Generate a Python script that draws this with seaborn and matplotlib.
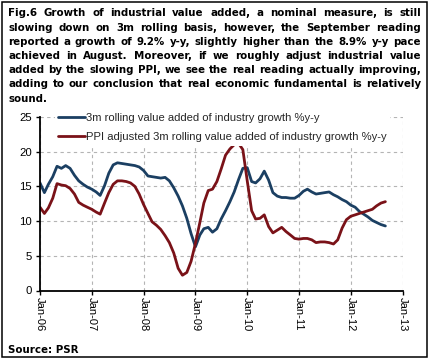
import matplotlib
matplotlib.use("Agg")
import matplotlib.pyplot as plt
import matplotlib.dates as mdates
from matplotlib.patches import Rectangle
import seaborn as sns
import pandas as pd

sns.set_style("white")
plt.rcParams['font.family'] = ['Liberation Sans', 'DejaVu Sans']

# ---------------- data ----------------
months = pd.date_range('2006-01-01', '2012-09-01', freq='MS')

series_names = ["3m rolling value added of industry growth %y-y",
                "PPI adjusted 3m rolling value added of industry growth %y-y"]

iva_3m = [15.5, 14.1, 15.3, 16.4, 17.9, 17.6, 18.0, 17.6, 16.6, 15.8,
          15.3, 14.9, 14.6, 14.2, 13.7, 15.1, 16.9, 18.1, 18.4, 18.3,
          18.2, 18.1, 18.0, 17.8, 17.3, 16.5, 16.4, 16.3, 16.2, 16.3,
          15.8, 14.8, 13.6, 12.2, 10.4, 8.2, 6.3, 8.0, 8.9, 9.1,
          8.4, 8.9, 10.3, 11.5, 12.8, 14.2, 16.0, 17.6, 17.7, 15.7,
          15.5, 16.1, 17.2, 15.9, 14.1, 13.6, 13.4, 13.4, 13.3, 13.3,
          13.7, 14.3, 14.6, 14.2, 13.9, 14.0, 14.1, 14.2, 13.8, 13.5,
          13.1, 12.8, 12.3, 12.0, 11.4, 11.0, 10.6, 10.1, 9.8, 9.5,
          9.3]

iva_ppi_adj = [12.0, 11.1, 11.9, 13.3, 15.4, 15.2, 15.1, 14.7, 13.9, 12.7,
               12.3, 12.0, 11.7, 11.3, 11.0, 12.6, 14.1, 15.3, 15.8, 15.8,
               15.7, 15.5, 15.0, 13.9, 12.4, 11.1, 9.9, 9.4, 8.8, 7.9,
               6.9, 5.4, 3.2, 2.2, 2.6, 4.2, 6.8, 9.8, 12.6, 14.4,
               14.6, 15.7, 17.5, 19.5, 20.4, 21.0, 21.2, 20.3, 15.8, 11.5,
               10.3, 10.4, 10.9, 9.2, 8.3, 8.7, 9.1, 8.5, 8.0, 7.5,
               7.4, 7.5, 7.5, 7.3, 6.9, 7.0, 7.0, 6.9, 6.7, 7.3,
               9.0, 10.2, 10.7, 10.9, 11.1, 11.3, 11.5, 11.7, 12.2, 12.6,
               12.8]

y_ticks = [0, 5, 10, 15, 20, 25]

title_lines = [
    "Fig.6 Growth of industrial value added, a nominal measure, is still",
    "slowing down on 3m rolling basis, however, the September reading",
    "reported a growth of 9.2% y-y, slightly higher than the 8.9% y-y pace",
    "achieved in August. Moreover, if we roughly adjust industrial value",
    "added by the slowing PPI, we see the real reading actually improving,",
    "adding to our conclusion that real economic fundamental is relatively",
    "sound.",
]
source_text = "Source: PSR"

colors = ["#1B3F62", "#7A1218"]

df = pd.DataFrame({
    "date": list(months) * 2,
    "value": iva_3m + iva_ppi_adj,
    "series": [series_names[0]] * len(months) + [series_names[1]] * len(months),
})

# ---------------- figure ----------------
W, H = 436, 360
fig = plt.figure(figsize=(W / 100, H / 100), dpi=100)
fig.patch.set_facecolor("white")

ax = fig.add_axes([40 / W, 1 - 290.5 / H, (402.7 - 40) / W, (290.5 - 117) / H])
sns.lineplot(data=df, x="date", y="value", hue="series", hue_order=series_names,
             palette=colors, linewidth=2.0, ax=ax, legend=True)

ax.set_xlim(pd.Timestamp('2006-01-01'), pd.Timestamp('2013-01-01'))
ax.set_ylim(0, 25)
ax.set_yticks(y_ticks)
ax.xaxis.set_major_locator(mdates.YearLocator())
ax.xaxis.set_major_formatter(mdates.DateFormatter('%b-%y'))
ax.set_xlabel("")
ax.set_ylabel("")

ax.grid(True, linestyle=(0, (3, 3)), color="#b4b4b4", linewidth=0.8)
ax.set_axisbelow(True)
for s in ["top", "right"]:
    ax.spines[s].set_visible(False)
for s in ["left", "bottom"]:
    ax.spines[s].set_color("black")
    ax.spines[s].set_linewidth(1.3)

ax.tick_params(axis="y", labelsize=8.2, length=3, width=1, pad=3, colors="black", left=True)
ax.tick_params(axis="x", labelsize=8.0, length=3, width=1, pad=2, colors="black",
               bottom=True, labelrotation=-90)

leg = ax.legend(loc="center left", bbox_to_anchor=(0.041, 0.94), frameon=True,
                facecolor="white", edgecolor="none", framealpha=1, fontsize=8.1,
                handlelength=2.4, handletextpad=0.1, labelspacing=0.85,
                borderpad=0.3, borderaxespad=0)

# ---------------- title (justified) ----------------
renderer = fig.canvas.get_renderer()
left_px, right_px = 8, 421
title_font = dict(fontsize=7.4, fontweight="bold", family=["DejaVu Sans"])
for i, line in enumerate(title_lines):
    base_y = 16.4 + i * 14.2
    words = line.split(" ")
    texts = [fig.text(0, 1 - base_y / H, w, va="baseline", ha="left", color="black",
                      **title_font) for w in words]
    widths = [t.get_window_extent(renderer).width for t in texts]
    sp = fig.text(0, 0, "a a", **title_font)
    sp2 = fig.text(0, 0, "aa", **title_font)
    space = sp.get_window_extent(renderer).width - sp2.get_window_extent(renderer).width
    sp.remove(); sp2.remove()
    if i == len(title_lines) - 1 or len(words) == 1:
        gap = space
    else:
        gap = (right_px - left_px - sum(widths)) / (len(words) - 1)
    x = left_px
    for t, w in zip(texts, widths):
        t.set_x(x / W)
        x += w + gap

fig.text(8 / W, 1 - 353 / H, source_text, va="baseline", ha="left", color="black",
         **title_font)

# outer frame
fig.patches.append(Rectangle((1.5 / W, 1 - 357 / H), (427 - 1.5) / W, (357 - 1.5) / H,
                             transform=fig.transFigure, fill=False, edgecolor="black",
                             linewidth=1.1))

fig.savefig("out.png", dpi=100)
